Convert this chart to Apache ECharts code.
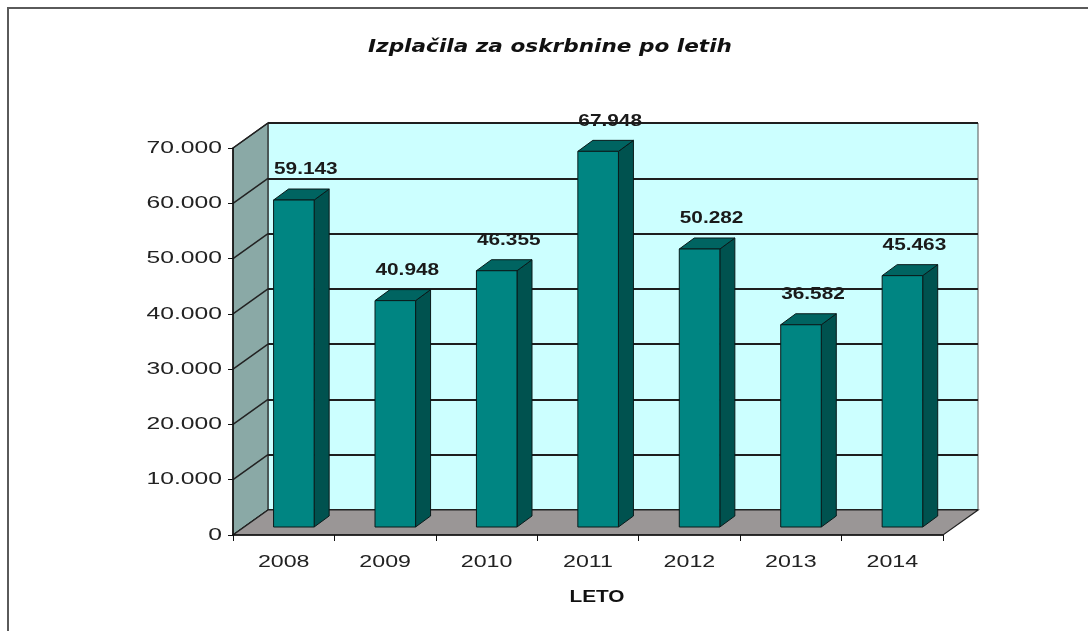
<!DOCTYPE html>
<html>
<head>
<meta charset="utf-8">
<title>Izplačila za oskrbnine po letih</title>
<script src="https://cdn.jsdelivr.net/npm/echarts@6/dist/echarts.min.js"></script>
<style>
  html, body { margin: 0; padding: 0; background: #fff; }
  #chart { width: 1088px; height: 631px; }
</style>
</head>
<body>
<div id="chart"></div>
<script>
const categories = ['2008', '2009', '2010', '2011', '2012', '2013', '2014']
const values = [59143, 40948, 46355, 67948, 50282, 36582, 45463]
const yTicks = [0, 10000, 20000, 30000, 40000, 50000, 60000, 70000]

const yMax = 70000
const yStep = 10000

// depth of the 3d box (back wall offset) and of the bars
const DX = 35
const DY = -25
const BAR_DX = 15
const BAR_DY = -11
// the original picture is stretched sideways, so is its text
const TEXT_SCALE = 1.3
const AXIS_TEXT_SCALE = 1.45

function fmt(v) {
  return String(v).replace(/\B(?=(\d{3})+(?!\d))/g, '.')
}

const chart = echarts.init(document.getElementById('chart'))

function renderWalls(params, api) {
  const bw = api.size([1, 0])[0]
  const c0 = api.coord([0, 0])
  const x0 = c0[0] - bw / 2
  const yb = c0[1]
  const x1 = api.coord([categories.length - 1, 0])[0] + bw / 2
  const yt = api.coord([0, yMax])[1]
  const children = []
  children.push({
    type: 'polygon',
    shape: { points: [[x0, yb], [x0, yt], [x0 + DX, yt + DY], [x0 + DX, yb + DY]] },
    style: { fill: '#8aa9a6', stroke: '#222', lineWidth: 1.2 }
  })
  yTicks.forEach(v => {
    const y = api.coord([0, v])[1]
    children.push({
      type: 'line',
      shape: { x1: x0, y1: y, x2: x0 + DX, y2: y + DY },
      style: { stroke: '#222', lineWidth: 1.5 }
    })
  })
  children.push({
    type: 'polygon',
    shape: { points: [[x0, yb], [x1, yb], [x1 + DX, yb + DY], [x0 + DX, yb + DY]] },
    style: { fill: '#9a9696', stroke: '#222', lineWidth: 1.2 }
  })
  return { type: 'group', children }
}

function renderBar(params, api) {
  const i = api.value(0)
  const v = api.value(1)
  const bw = api.size([1, 0])[0]
  const base = api.coord([i, 0])
  const top = api.coord([i, v])
  const fdx = DX * 0.32
  const fdy = DY * 0.32
  const fx = base[0] - 0.1 * bw
  const w = 0.4 * bw
  const yb = base[1] + fdy
  const yt = top[1] + fdy
  const stroke = { stroke: '#0a1a1a', lineWidth: 1 }
  return {
    type: 'group',
    children: [
      {
        type: 'polygon',
        shape: { points: [[fx + w, yb], [fx + w, yt], [fx + w + BAR_DX, yt + BAR_DY], [fx + w + BAR_DX, yb + BAR_DY]] },
        style: Object.assign({ fill: '#00524f' }, stroke)
      },
      {
        type: 'polygon',
        shape: { points: [[fx, yt], [fx + w, yt], [fx + w + BAR_DX, yt + BAR_DY], [fx + BAR_DX, yt + BAR_DY]] },
        style: Object.assign({ fill: '#006461' }, stroke)
      },
      {
        type: 'rect',
        shape: { x: fx, y: yt, width: w, height: yb - yt },
        style: Object.assign({ fill: '#008582' }, stroke)
      },
      {
        type: 'text',
        x: fx + w / 2 + 12,
        y: yt + BAR_DY - 19,
        scaleX: TEXT_SCALE,
        style: {
          text: fmt(v),
          fill: '#1a1a1a',
          font: 'bold 16px "Liberation Sans", Arial, sans-serif',
          align: 'center',
          verticalAlign: 'middle'
        }
      }
    ]
  }
}

function renderYLabel(params, api) {
  const v = api.value(1)
  const bw = api.size([1, 0])[0]
  const p = api.coord([0, v])
  return {
    type: 'text',
    x: p[0] - bw / 2 - 11,
    y: p[1],
    scaleX: AXIS_TEXT_SCALE,
    style: {
      text: fmt(v),
      fill: '#222',
      font: '17px "Liberation Sans", Arial, sans-serif',
      align: 'right',
      verticalAlign: 'middle'
    }
  }
}

function renderXLabel(params, api) {
  const i = api.value(0)
  const p = api.coord([i, 0])
  return {
    type: 'text',
    x: p[0],
    y: p[1] + 28,
    scaleX: AXIS_TEXT_SCALE,
    style: {
      text: categories[i],
      fill: '#222',
      font: '16px "Liberation Sans", Arial, sans-serif',
      align: 'center',
      verticalAlign: 'middle'
    }
  }
}

const option = {
  backgroundColor: '#fff',
  animation: false,
  tooltip: { show: false },
  graphic: [
    {
      type: 'rect',
      shape: { x: 8, y: 8, width: 1200, height: 800 },
      style: { fill: 'none', stroke: '#5a5a5a', lineWidth: 2 },
      silent: true
    },
    {
      type: 'text',
      x: 550,
      y: 47,
      scaleX: 1.2,
      style: {
        text: 'Izplačila za oskrbnine po letih',
        fill: '#111',
        font: 'italic bold 18px "DejaVu Sans", Verdana, sans-serif',
        align: 'center',
        verticalAlign: 'middle'
      }
    },
    {
      type: 'text',
      x: 597,
      y: 598,
      scaleX: TEXT_SCALE,
      style: {
        text: 'LETO',
        fill: '#111',
        font: 'bold 16px "Liberation Sans", Arial, sans-serif',
        align: 'center',
        verticalAlign: 'middle'
      }
    }
  ],
  grid: [
    { left: 233, right: 145, top: 148, bottom: 96 },
    {
      left: 268, right: 110, top: 123, bottom: 121,
      show: true,
      backgroundColor: '#ccffff',
      borderColor: '#555',
      borderWidth: 1
    }
  ],
  xAxis: [
    {
      type: 'category',
      gridIndex: 0,
      data: categories,
      axisLine: { lineStyle: { color: '#111', width: 1.5 } },
      axisTick: { show: true, length: 6, lineStyle: { color: '#111' } },
      axisLabel: { show: false },
      z: 5
    },
    {
      type: 'category',
      gridIndex: 1,
      data: categories,
      axisLine: { show: false },
      axisTick: { show: false },
      axisLabel: { show: false }
    }
  ],
  yAxis: [
    {
      type: 'value',
      gridIndex: 0,
      min: 0,
      max: yMax,
      interval: yStep,
      axisLine: { show: true, lineStyle: { color: '#111', width: 1.5 } },
      axisTick: { show: true, length: 5, lineStyle: { color: '#111' } },
      axisLabel: { show: false },
      splitLine: { show: false },
      z: 5
    },
    {
      type: 'value',
      gridIndex: 1,
      min: 0,
      max: yMax,
      interval: yStep,
      axisLine: { show: false },
      axisTick: { show: false },
      axisLabel: { show: false },
      splitLine: { show: true, lineStyle: { color: '#1e1e1e', width: 1.8 } }
    }
  ],
  series: [
    {
      type: 'custom',
      name: 'walls',
      xAxisIndex: 0,
      yAxisIndex: 0,
      z: 2,
      silent: true,
      renderItem: renderWalls,
      data: [[0, 0]]
    },
    {
      type: 'custom',
      name: 'Izplačila',
      xAxisIndex: 0,
      yAxisIndex: 0,
      z: 3,
      renderItem: renderBar,
      data: values.map((v, i) => [i, v])
    },
    {
      type: 'custom',
      name: 'yLabels',
      xAxisIndex: 0,
      yAxisIndex: 0,
      z: 4,
      silent: true,
      renderItem: renderYLabel,
      data: yTicks.map(v => [0, v])
    },
    {
      type: 'custom',
      name: 'xLabels',
      xAxisIndex: 0,
      yAxisIndex: 0,
      z: 4,
      silent: true,
      renderItem: renderXLabel,
      data: categories.map((c, i) => [i, 0])
    }
  ]
}

chart.setOption(option)
</script>
</body>
</html>
